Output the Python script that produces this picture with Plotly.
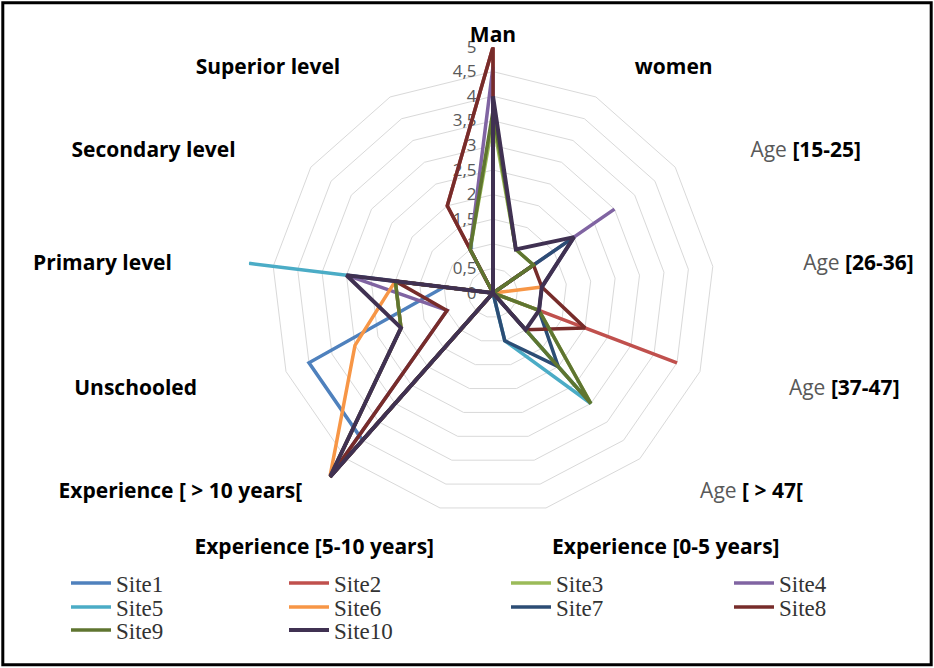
import plotly.graph_objects as go

categories = ["Man", "women", "Age [15-25]", "Age [26-36]", "Age [37-47]", "Age [ > 47[",
              "Experience [0-5 years]", "Experience [5-10 years]", "Experience [ > 10 years[",
              "Unschooled", "Primary level", "Secondary level", "Superior level"]

NB = "\u00a0"
tick_labels = ["<b>Man</b>",
               NB * 5 + "<b>women</b>",
               NB * 10 + "<span style='color:#595959'>Age</span> <b>[15-25]</b>",
               NB * 12 + "<span style='color:#595959'>Age</span> <b>[26-36]</b>",
               NB * 12 + "<span style='color:#595959'>Age</span> <b>[37-47]</b>",
               NB * 8 + "<span style='color:#595959'>Age</span> <b>[ > 47[</b>",
               "<b>Experience [0-5 years]</b>",
               "<b>Experience [5-10 years]</b>",
               "<b>Experience [ > 10 years[</b>" + NB * 5,
               "<b>Unschooled</b>" + NB * 12,
               "<b>Primary level</b>" + NB * 14,
               "<b>Secondary level</b>" + NB * 10,
               "<b>Superior level</b>" + NB * 7]

site_names = ["Site1", "Site2", "Site3", "Site4", "Site5", "Site6", "Site7", "Site8", "Site9", "Site10"]

site1 = [0, 0, 0, 0, 0, 0, 0, 0, 4, 4, 1, 0, 0]
site2 = [5, 0, 0, 0, 4, 0, 0, 0, 5, 2, 2, 0, 2]
site3 = [3.5, 1, 1, 0, 1, 3, 0, 0, 5, 2, 2, 0, 1]
site4 = [4.6, 0, 3, 0, 0, 0, 0, 0, 5, 1, 3, 0, 1]
site5 = [0, 0, 0, 0, 0, 3, 1, 0, 0, 0, 5, 0, 0]
site6 = [0, 0, 0, 1, 0, 0, 0, 0, 5, 3, 2, 0, 0]
site7 = [0, 0, 2, 1, 1, 2, 1, 0, 0, 0, 0, 0, 0]
site8 = [5, 0, 1, 1, 2, 1, 0, 0, 5, 1, 2, 0, 2]
site9 = [3.7, 1, 1, 0, 1, 3, 0, 0, 5, 2, 2, 0, 1]
site10 = [4, 1, 2, 1, 1, 1, 0, 0, 5, 2, 3, 0, 0]

series = [site1, site2, site3, site4, site5, site6, site7, site8, site9, site10]
colors = ["#4F81BD", "#C0504D", "#9BBB59", "#8064A2", "#4BACC6",
          "#F79646", "#2C4D75", "#772C2A", "#5F7530", "#403152"]
widths = [3.5, 3.5, 3.5, 3.5, 3.5, 3.5, 3.5, 3.5, 3.5, 4]

radial_vals = [0, 0.5, 1, 1.5, 2, 2.5, 3, 3.5, 4, 4.5, 5]
radial_text = ["0", "0,5", "1", "1,5", "2", "2,5", "3", "3,5", "4", "4,5", "5"]

W, H = 934, 668
cx, cy, R = 493, 293, 246

# legend grid: 4 columns x 3 rows (pixel anchors of each entry)
legend_cols = [66, 284, 506, 729]
legend_rows = [583, 607, 630]

fig = go.Figure()
layout_legends = {}
for i, (name, vals, col, w) in enumerate(zip(site_names, series, colors, widths)):
    key = "legend" if i == 0 else f"legend{i + 1}"
    fig.add_trace(go.Scatterpolar(
        r=vals + vals[:1], theta=categories + categories[:1],
        mode="lines", name=name, line=dict(color=col, width=w),
        legend=key,
    ))
    lx = legend_cols[i % 4]
    ly = legend_rows[i // 4]
    layout_legends[key] = dict(
        x=lx / W, y=1 - ly / H, xref="paper", yref="paper",
        xanchor="left", yanchor="middle", bgcolor="rgba(0,0,0,0)",
        font=dict(family="Liberation Serif", size=23, color="#333333"),
        itemwidth=40, borderwidth=0,
    )

fig.update_layout(
    width=W, height=H,
    margin=dict(l=0, r=0, t=0, b=0),
    paper_bgcolor="white", plot_bgcolor="white",
    font=dict(family="Open Sans", color="#000000"),
    polar=dict(
        domain=dict(x=[(cx - R) / W, (cx + R) / W], y=[(H - cy - R) / H, (H - cy + R) / H]),
        gridshape="linear",
        bgcolor="white",
        angularaxis=dict(direction="clockwise", rotation=90, showgrid=False, showline=False,
                         ticks="", tickvals=categories, ticktext=tick_labels,
                         tickfont=dict(size=21, family="Open Sans", color="#000000")),
        radialaxis=dict(range=[0, 5], tickvals=radial_vals, ticktext=radial_text,
                        angle=90, tickangle=90, side="counterclockwise",
                        showline=False, ticks="outside", ticklen=10,
                        tickcolor="rgba(0,0,0,0)",
                        gridcolor="#D9D9D9", gridwidth=1, layer="below traces",
                        tickfont=dict(size=17, family="Open Sans", color="#595959")),
    ),
    showlegend=True,
    shapes=[dict(type="rect", xref="paper", yref="paper", x0=0.003, x1=0.997, y0=0.005, y1=0.996,
                 line=dict(color="black", width=3))],
    **layout_legends,
)

fig.write_html("out.html", config={"displayModeBar": False},
               post_script="document.body.style.margin='0px';document.body.style.overflow='hidden';")
